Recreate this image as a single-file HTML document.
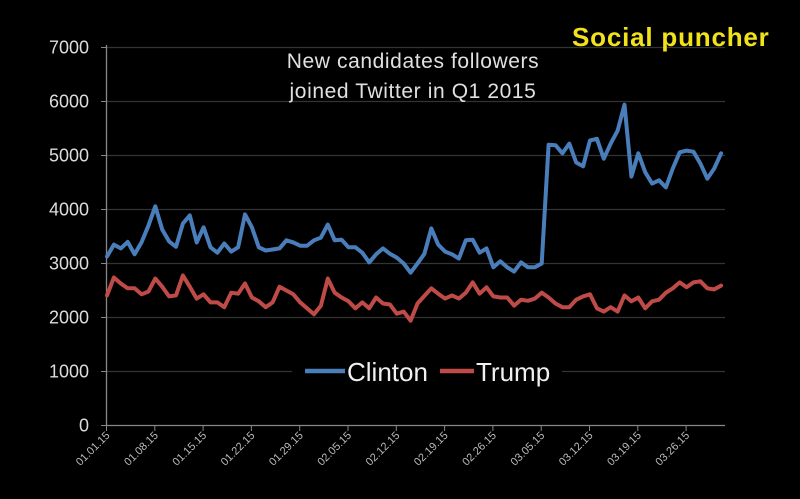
<!DOCTYPE html>
<html><head><meta charset="utf-8"><style>
html,body{margin:0;padding:0;background:#000;}
svg{display:block;font-family:"Liberation Sans","DejaVu Sans",sans-serif;}
</style></head><body>
<svg id="chart" width="800" height="499" viewBox="0 0 800 499">
<rect x="0" y="0" width="800" height="499" fill="#000"/>
<g id="grid"></g>
<g id="yaxis"></g>
<g id="xaxis"></g>
<g id="series"></g>
<g fill="#e0e0e0" font-size="21" text-anchor="middle" letter-spacing="0.6">
<text x="413" y="68">New candidates followers</text>
<text x="413" y="98">joined Twitter in Q1 2015</text>
</g>
<text x="572" y="46" fill="#f2e21a" font-size="26" font-weight="bold" letter-spacing="0.8">Social puncher</text>
<g>
<rect x="292" y="350" width="270" height="42" fill="#000"/>
<g>
<line x1="305" y1="371" x2="345" y2="371" stroke="#4a7ebb" stroke-width="4.5"/>
<text x="347" y="381" fill="#f0f0f0" font-size="26">Clinton</text>
</g>
<g>
<line x1="440" y1="371" x2="474" y2="371" stroke="#be4b48" stroke-width="4.5"/>
<text x="476" y="381" fill="#f0f0f0" font-size="26">Trump</text>
</g>
</g>
</svg>
<script>
const clinton = [3130,3350,3280,3400,3170,3390,3700,4060,3630,3410,3310,3740,3890,3390,3670,3300,3200,3370,3220,3300,3910,3670,3300,3240,3260,3280,3430,3390,3330,3330,3430,3480,3720,3430,3440,3300,3300,3200,3020,3170,3280,3180,3110,3000,2830,3000,3180,3650,3350,3220,3170,3090,3430,3440,3200,3280,2930,3040,2930,2850,3020,2930,2930,3000,5200,5190,5040,5220,4870,4800,5280,5310,4940,5220,5460,5940,4610,5040,4690,4480,4540,4410,4760,5060,5090,5070,4850,4570,4760,5040];
const trump = [2410,2740,2630,2540,2540,2430,2480,2720,2570,2390,2410,2780,2570,2350,2430,2280,2280,2190,2460,2440,2630,2370,2300,2190,2280,2570,2500,2430,2280,2170,2060,2220,2720,2460,2370,2300,2170,2280,2170,2370,2260,2240,2070,2110,1940,2260,2400,2540,2440,2350,2410,2350,2460,2650,2440,2560,2390,2370,2370,2220,2330,2310,2350,2460,2370,2260,2190,2190,2330,2390,2430,2170,2110,2190,2110,2410,2300,2370,2170,2300,2330,2460,2540,2650,2560,2650,2670,2540,2520,2590];
const yTicks = [0,1000,2000,3000,4000,5000,6000,7000];
const xLabels = ["01.01.15","01.08.15","01.15.15","01.22.15","01.29.15","02.05.15","02.12.15","02.19.15","02.26.15","03.05.15","03.12.15","03.19.15","03.26.15"];
const NS="http://www.w3.org/2000/svg";
function x(i){return 107+i*6.9;}
function y(v){return 425.5-v*0.054;}
function mk(t,a,p){const e=document.createElementNS(NS,t);for(const k in a)e.setAttribute(k,a[k]);p.appendChild(e);return e;}
const grid=document.getElementById('grid'),ya=document.getElementById('yaxis'),xa=document.getElementById('xaxis'),ser=document.getElementById('series');
yTicks.forEach(v=>{
  if(v>0){const g=mk('line',{x1:106.5,x2:725,y1:y(v),y2:y(v),stroke:'#333','stroke-width':1.3},grid);
  
  }
  const tk=mk('line',{x1:101,x2:106.5,y1:y(v),y2:y(v),stroke:'#888'},ya);
  
  
  const t=mk('text',{x:89,y:y(v)+6,'text-anchor':'end',fill:'#ddd','font-size':18},ya);
  t.textContent=v;
  
  
});
const axv=mk('line',{x1:106.5,x2:106.5,y1:45,y2:425.5,stroke:'#888','stroke-width':1.3},ya);


const axh=mk('line',{x1:106.5,x2:725,y1:425.5,y2:425.5,stroke:'#888','stroke-width':1.3},xa);


xLabels.forEach((l,k)=>{
  const xx=x(k*7)-0.5;
  const tk=mk('line',{x1:xx,x2:xx,y1:425.5,y2:431,stroke:'#888'},xa);
  
  
  const t=mk('text',{x:xx+4,y:436,'text-anchor':'end',fill:'#bbb','font-size':11,transform:'rotate(-45 '+(xx+4)+' 436)'},xa);
  t.textContent=l;
  
  
});
function line(data,color,name){
  const d=data.map((v,i)=>(i?'L':'M')+x(i).toFixed(1)+' '+y(v).toFixed(1)).join(' ');
  const p=mk('path',{d:d,fill:'none',stroke:color,'stroke-width':4,'stroke-linejoin':'round','stroke-linecap':'round'},ser);
  
  
}
line(trump,'#be4b48','trump-line');
line(clinton,'#4a7ebb','clinton-line');
</script>
</body></html>
